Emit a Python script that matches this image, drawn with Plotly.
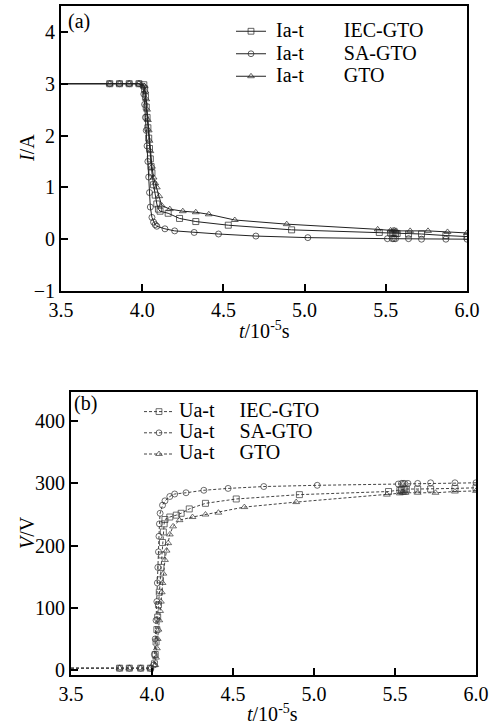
import plotly.graph_objects as go

# ---------------- data: panel (a) current ----------------
t_iec_a = [3.50, 3.80, 3.86, 3.92, 3.98, 4.010, 4.015, 4.020, 4.025, 4.030, 4.035, 4.040, 4.045,
           4.050, 4.055, 4.060, 4.070, 4.080, 4.090, 4.100, 4.110, 4.160, 4.230, 4.330, 4.530,
           4.920, 5.460, 5.530, 5.540, 5.550, 5.560, 5.570, 5.640, 5.720, 5.870, 6.000]
i_iec_a = [3.00, 3.00, 3.00, 3.00, 3.00, 2.98, 2.90, 2.75, 2.55, 2.35, 2.15, 1.95, 1.75,
           1.55, 1.40, 1.28, 1.05, 0.85, 0.68, 0.58, 0.54, 0.50, 0.40, 0.34, 0.27,
           0.18, 0.13, 0.12, 0.12, 0.12, 0.11, 0.11, 0.10, 0.10, 0.07, 0.05]

t_sa_a = [3.50, 3.80, 3.86, 3.92, 3.98, 4.005, 4.010, 4.015, 4.020, 4.025, 4.030, 4.035, 4.040,
          4.045, 4.050, 4.060, 4.070, 4.080, 4.090, 4.140, 4.200, 4.320, 4.470, 4.700, 5.020,
          5.510, 5.540, 5.550, 5.560, 5.640, 5.720, 5.870, 6.000]
i_sa_a = [3.00, 3.00, 3.00, 3.00, 3.00, 2.95, 2.80, 2.60, 2.35, 2.10, 1.80, 1.50, 1.20,
          0.90, 0.62, 0.42, 0.33, 0.28, 0.25, 0.20, 0.16, 0.13, 0.10, 0.06, 0.03,
          0.01, 0.01, 0.01, 0.01, 0.01, 0.00, 0.00, 0.00]

t_gto_a = [3.50, 3.80, 3.86, 3.92, 3.98, 4.015, 4.020, 4.025, 4.030, 4.035, 4.040, 4.045, 4.050,
           4.060, 4.070, 4.080, 4.090, 4.105, 4.120, 4.170, 4.250, 4.330, 4.410, 4.570, 4.890,
           5.450, 5.530, 5.545, 5.555, 5.565, 5.650, 5.760, 5.880, 6.000]
i_gto_a = [3.00, 3.00, 3.00, 3.00, 3.00, 2.95, 2.85, 2.70, 2.50, 2.30, 2.10, 1.90, 1.70,
           1.40, 1.19, 1.08, 1.00, 0.83, 0.65, 0.58, 0.54, 0.52, 0.48, 0.37, 0.29,
           0.19, 0.17, 0.17, 0.17, 0.16, 0.16, 0.16, 0.14, 0.12]

# ---------------- data: panel (b) voltage ----------------
t_iec_b = [3.50, 3.80, 3.86, 3.93, 3.99, 4.015, 4.020, 4.025, 4.030, 4.035, 4.040, 4.045, 4.050,
           4.055, 4.060, 4.065, 4.070, 4.075, 4.080, 4.110, 4.150, 4.180, 4.230, 4.330, 4.520,
           4.910, 5.460, 5.530, 5.540, 5.550, 5.560, 5.570, 5.640, 5.720, 5.870, 6.000]
v_iec_b = [3, 3, 3, 3, 3, 10, 25, 45, 65, 85, 105, 125, 145,
           165, 185, 205, 222, 235, 242, 246, 249, 252, 259, 268, 275,
           282, 287, 289, 290, 290, 290, 291, 291, 291, 292, 293]

t_sa_b = [3.50, 3.80, 3.86, 3.93, 3.99, 4.010, 4.015, 4.020, 4.025, 4.030, 4.033, 4.036, 4.040,
          4.043, 4.046, 4.050, 4.065, 4.080, 4.110, 4.140, 4.210, 4.320, 4.470, 4.690, 5.020,
          5.520, 5.540, 5.550, 5.560, 5.580, 5.640, 5.720, 5.870, 6.000]
v_sa_b = [3, 3, 3, 3, 3, 8, 25, 50, 80, 110, 140, 165, 190,
          215, 235, 252, 265, 272, 279, 283, 285, 289, 292, 295, 297,
          299, 300, 300, 300, 300, 300, 301, 301, 301]

t_gto_b = [3.50, 3.80, 3.86, 3.93, 3.99, 4.020, 4.025, 4.030, 4.035, 4.040, 4.045, 4.050, 4.055,
           4.060, 4.065, 4.070, 4.080, 4.090, 4.100, 4.110, 4.130, 4.170, 4.250, 4.330, 4.410,
           4.570, 4.890, 5.450, 5.530, 5.545, 5.555, 5.565, 5.640, 5.750, 5.870, 6.000]
v_gto_b = [3, 3, 3, 3, 3, 8, 20, 35, 50, 65, 80, 95, 110,
           125, 140, 155, 177, 192, 204, 218, 231, 241, 246, 250, 253,
           262, 270, 282, 284, 285, 285, 285, 285, 285, 287, 288]

x_ticks = [3.5, 4.0, 4.5, 5.0, 5.5, 6.0]
ya_ticks = [-1, 0, 1, 2, 3, 4]
yb_ticks = [0, 100, 200, 300, 400]

names_a = ["Ia-t", "Ia-t", "Ia-t"]
names_b = ["Ua-t", "Ua-t", "Ua-t"]
devices = ["IEC-GTO", "SA-GTO", "GTO"]

# ---------------- figure ----------------
W, H = 494, 726
FONT = "Liberation Serif"
INK = "#222222"
symbols = ["square-open", "circle-open", "triangle-up-open"]
NB = "\u00a0"


def msize(n):
    return [0] + [6] * (n - 1)


def label(prefix, dev, lead, gap):
    return ('<span style="font-size:20px">' + NB * lead + prefix + NB * gap + dev + "</span>")


def tf(size=20):
    return dict(family=FONT, size=size, color="black")


fig = go.Figure()
series_a = [(t_iec_a, i_iec_a), (t_sa_a, i_sa_a), (t_gto_a, i_gto_a)]
for k, (tx, ty) in enumerate(series_a):
    fig.add_trace(go.Scatter(
        x=tx, y=ty, mode="lines+markers", xaxis="x", yaxis="y", legend="legend",
        name=label(names_a[k], devices[k], 1, 8),
        line=dict(color=INK, width=1),
        marker=dict(symbol=symbols[k], size=msize(len(tx)), color=INK, line=dict(width=1, color=INK)),
    ))

series_b = [(t_iec_b, v_iec_b), (t_sa_b, v_sa_b), (t_gto_b, v_gto_b)]
for k, (tx, ty) in enumerate(series_b):
    fig.add_trace(go.Scatter(
        x=tx, y=ty, mode="lines+markers", xaxis="x2", yaxis="y2", legend="legend2",
        name=label(names_b[k], devices[k], 0, 5),
        line=dict(color="#444444", width=1, dash="3px,2px"),
        marker=dict(symbol=symbols[k], size=msize(len(tx)), color="#333333", line=dict(width=1, color="#333333")),
    ))

axis_common = dict(
    showline=True, linewidth=2, linecolor="black", mirror=True,
    ticks="inside", ticklen=7, tickwidth=2, tickcolor="black",
    showgrid=False, zeroline=False,
    tickfont=tf(),
)

xa_dom = [61 / W, 467 / W]
ya_dom = [1 - 291 / H, 1 - 6 / H]
xb_dom = [71 / W, 476 / W]
yb_dom = [1 - 675 / H, 1 - 392 / H]


def note(text, xpx, ypx, angle=0, xanchor="center"):
    return dict(text=text, xref="paper", yref="paper", x=xpx / W, y=1 - ypx / H,
                xanchor=xanchor, yanchor="middle", showarrow=False, textangle=angle, font=tf())


fig.update_layout(
    template="none",
    width=W, height=H,
    margin=dict(l=0, r=0, t=0, b=0),
    paper_bgcolor="white", plot_bgcolor="white",
    xaxis=dict(domain=xa_dom, anchor="y", range=[3.5, 6.0], tickvals=x_ticks,
               ticktext=[f"{v:.1f}" for v in x_ticks], **axis_common),
    yaxis=dict(domain=ya_dom, anchor="x", range=[-1, 4.5], tickvals=ya_ticks, **axis_common),
    xaxis2=dict(domain=xb_dom, anchor="y2", range=[3.5, 6.0], tickvals=x_ticks,
                ticktext=[f"{v:.1f}" for v in x_ticks], **axis_common),
    yaxis2=dict(domain=yb_dom, anchor="x2", range=[-8, 447], tickvals=yb_ticks, **axis_common),
    legend=dict(x=231 / W, y=1 - 15 / H, xanchor="left", yanchor="top",
                bgcolor="rgba(0,0,0,0)", borderwidth=0, tracegroupgap=0,
                font=tf(15)),
    legend2=dict(x=139 / W, y=1 - 396 / H, xanchor="left", yanchor="top",
                 bgcolor="rgba(0,0,0,0)", borderwidth=0, tracegroupgap=0,
                 font=tf(14)),
    annotations=[
        note("(a)", 66, 21, xanchor="left"),
        note("(b)", 72, 403, xanchor="left"),
        note("<i>t</i>/10<sup>-5</sup>s", 264, 330),
        note("<i>t</i>/10<sup>-5</sup>s", 272, 713),
        note("<i>I</i>/A", 27, 148, angle=-90),
        note("<i>V</i>/V", 27, 533, angle=-90),
    ],
)

fig.write_html("out.html")
